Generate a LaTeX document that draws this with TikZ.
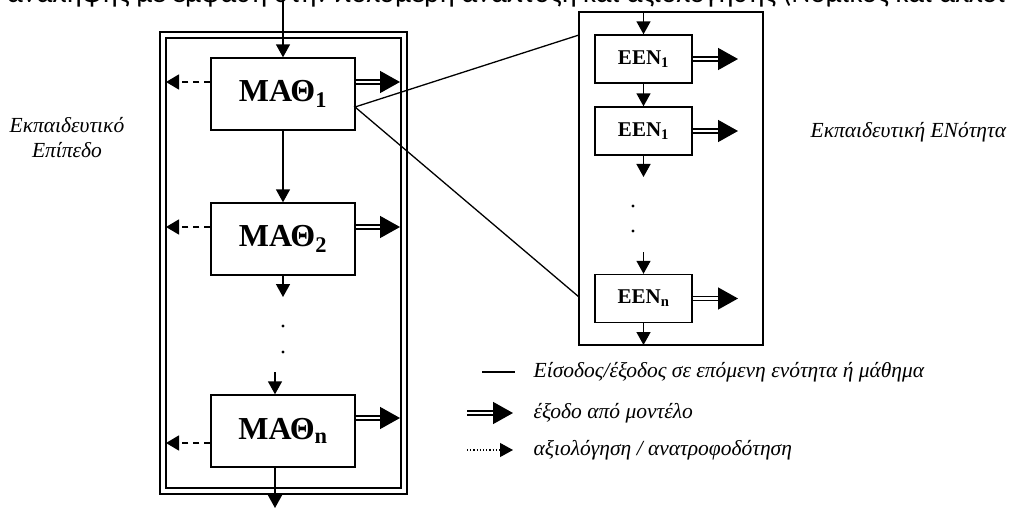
\documentclass[tikz,border=0pt]{standalone}
\usepackage{fontspec}
\setmainfont{Liberation Serif}
\newfontfamily\topfont{Carlito}
\usepackage{tikz}
\usetikzlibrary{arrows.meta}
\usetikzlibrary{calc}
\usetikzlibrary{positioning}

\begin{document}
\begin{tikzpicture}[
			x=1pt, y=-1pt,
			line width=1.4pt,
			lesson/.style={rectangle, draw=black, line width=1.4pt, minimum width=144pt, minimum height=72pt, inner sep=0pt, font=\fontsize{32}{34}\selectfont\bfseries},
			unit/.style={rectangle, draw=black, line width=1.4pt, minimum width=97pt, minimum height=48pt, inner sep=0pt, font=\fontsize{21}{23}\selectfont\bfseries},
			flow/.style={-{Triangle[length=13pt,width=14pt]}, line width=1.5pt},
			fback/.style={-{Triangle[length=13pt,width=15pt]}, line width=1.5pt, dash pattern=on 6pt off 5pt},
			outflow/.style={double, double distance=2.5pt, line width=1.5pt, -{Triangle[length=20pt,width=22pt]}},
			note/.style={font=\fontsize{21.5}{25}\selectfont\itshape, inner sep=0pt}
		]
		\useasboundingbox (0,0) rectangle (1012,508);

		% Clipped caption line at the top
		\begin{scope}
			\clip (0,0) rectangle (1012,508);
			\node[anchor=base, font=\topfont\fontsize{29}{31}\selectfont, inner sep=0pt] (caption) at (506,3)
			{αναληψης με έμφαση στην πολυμερή ανάπτυξη και αξιολόγησης (Νομικός και άλλοι};
		\end{scope}

		% Level frame (double border)
		\draw[line width=2.5pt] (160,32) rectangle (407,494);
		\draw[line width=2pt] (166,38) rectangle (401,488);

		% Lessons
		\node[lesson] (mat1) at (283,94) {ΜΑΘ$_{\mathbf{1}}$};
		\node[lesson] (mat2) at (283,239) {ΜΑΘ$_{\mathbf{2}}$};
		\node[lesson] (matn) at (283,431) {ΜΑΘ$_{\mathbf{n}}$};

		\coordinate (in) at (283,0);
		\coordinate (m2end) at (283,297);
		\coordinate (mnstart) at (275,372);
		\coordinate (out) at (275,508);
		\draw[flow] (in) -- (mat1);
		\draw[flow] (mat1) -- (mat2);
		\draw[flow] (mat2) -- (m2end);
		\draw[flow] (mnstart) -- (mnstart |- matn.north);
		\draw[flow] (matn.south -| out) -- (out);
		\fill (283,326) circle (1.6pt);
		\fill (283,352) circle (1.6pt);

		% Feedback (dashed) and output (double) arrows
		\foreach \m/\yf/\yo in {mat1/82/82, mat2/227/227, matn/443/418}{
				\coordinate (fb-\m) at (166,\yf);
				\coordinate (ot-\m) at (400,\yo);
				\draw[fback] (\m.west |- fb-\m) -- (fb-\m);
				\draw[outflow] (\m.east |- ot-\m) -- (ot-\m);
			}

		% Unit frame
		\draw[line width=2.8pt] (579,12) rectangle (763,345);

		% Units
		\node[unit] (een1) at (643.5,59) {ΕΕΝ$_{\mathbf{1}}$};
		\node[unit] (een2) at (643.5,131) {ΕΕΝ$_{\mathbf{1}}$};
		\node[unit] (eenn) at (643.5,298.5) {ΕΕΝ$_{\mathbf{n}}$};

		\coordinate (ein) at (643.5,12);
		\coordinate (e2end) at (643.5,177);
		\coordinate (enstart) at (643.5,252);
		\coordinate (eout) at (643.5,345);
		\draw[flow] (ein) -- (een1);
		\draw[flow] (een1) -- (een2);
		\draw[flow] (een2) -- (e2end);
		\draw[flow] (enstart) -- (eenn);
		\draw[flow] (eenn) -- (eout);
		\fill (633,206) circle (1.6pt);
		\fill (633,231) circle (1.6pt);

		\foreach \e in {een1, een2, eenn}{
				\coordinate (eo-\e) at (738,0);
				\draw[outflow] (\e.east) -- (\e.east -| eo-\e);
			}

		% Zoom lines from lesson to unit frame
		\coordinate (split) at (355,107);
		\coordinate (ztop) at (579,35);
		\coordinate (zbot) at (579,297);
		\draw[line width=1.3pt] (ztop) -- (split) -- (zbot);

		% Side labels
		\node[note, align=center] (level) at (67,138) {Εκπαιδευτικό\\Επίπεδο};
		\node[note, anchor=west] (unitlbl) at (810,132) {Εκπαιδευτική ΕΝότητα};

		% Legend
		\coordinate (l1a) at (482,372); \coordinate (l1b) at (515,372);
		\coordinate (l2a) at (467,413); \coordinate (l2b) at (513,413);
		\coordinate (l3a) at (467,450); \coordinate (l3b) at (513,450);
		\draw[line width=1.5pt] (l1a) -- (l1b);
		\draw[outflow] (l2a) -- (l2b);
		\draw[-{Triangle[length=13pt,width=14pt]}, line width=1.2pt, dotted] (l3a) -- (l3b);
		\node[note, anchor=west] (leg1) at (533,372) {Είσοδος/έξοδος σε επόμενη ενότητα ή μάθημα};
		\node[note, anchor=west] (leg2) at (533,413) {έξοδο από μοντέλο};
		\node[note, anchor=west] (leg3) at (533,450) {αξιολόγηση / ανατροφοδότηση};

	\end{tikzpicture}
\end{document}
